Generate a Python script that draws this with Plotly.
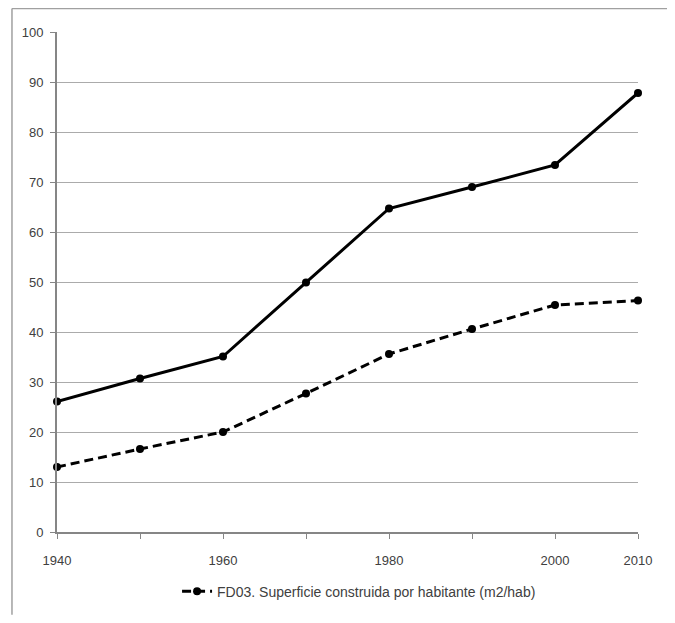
import plotly.graph_objects as go

years = [1940, 1950, 1960, 1970, 1980, 1990, 2000, 2010]
solid_values = [26.1, 30.7, 35.1, 49.9, 64.7, 69.0, 73.4, 87.8]
dashed_values = [13.0, 16.6, 20.0, 27.7, 35.6, 40.6, 45.4, 46.3]
dashed_name = "FD03. Superficie construida por habitante (m2/hab)"
x_tickvals = [1940, 1950, 1960, 1970, 1980, 1990, 2000, 2010]
x_ticktext = ["1940", "", "1960", "", "1980", "", "2000", "2010"]
y_tickvals = [0, 10, 20, 30, 40, 50, 60, 70, 80, 90, 100]

fig = go.Figure()
fig.add_trace(go.Scatter(
    x=years, y=solid_values, mode="lines+markers", showlegend=False,
    line=dict(color="black", width=3),
    marker=dict(color="black", size=8, symbol="circle"),
    cliponaxis=False,
))
fig.add_trace(go.Scatter(
    x=years, y=dashed_values, mode="lines+markers", name=dashed_name,
    line=dict(color="black", width=3, dash="9px,5px"),
    marker=dict(color="black", size=8, symbol="circle"),
    cliponaxis=False,
))

OFF = 8  # page body margin
W, H = 659, 607
# plot area in page pixels
PX0, PX1, PY0, PY1 = 57, 637.7, 32.3, 532.3
L = PX0 - OFF
R = W - (PX1 - OFF)
T = PY0 - OFF
B = H - (PY1 - OFF)
pw = PX1 - PX0
ph = PY1 - PY0

def page_to_paper_x(px):
    return (px - PX0) / pw

def page_to_paper_y(py):
    return (PY1 - py) / ph

fig.update_layout(
    width=W, height=H,
    margin=dict(l=L, r=R, t=T, b=B, autoexpand=False),
    paper_bgcolor="white", plot_bgcolor="white",
    font=dict(family="Liberation Sans, Arial, sans-serif", size=13, color="#404040"),
    showlegend=True,
    legend=dict(
        orientation="h", x=page_to_paper_x(177), y=page_to_paper_y(592),
        xanchor="left", yanchor="middle",
        font=dict(size=14, color="#404040"),
        bgcolor="rgba(0,0,0,0)",
    ),
    xaxis=dict(
        range=[1940, 2010], tickmode="array", tickvals=x_tickvals, ticktext=x_ticktext,
        showgrid=False, zeroline=False,
        showline=True, linecolor="#868686", linewidth=2,
        ticks="outside", ticklen=5, tickcolor="#868686", tickwidth=1,
        ticklabelstandoff=10,
        tickfont=dict(size=13, color="#404040"),
    ),
    yaxis=dict(
        range=[0, 100], tickmode="array", tickvals=y_tickvals,
        showgrid=True, gridcolor="#ababab", gridwidth=1, zeroline=False,
        showline=True, linecolor="#868686", linewidth=2,
        ticks="outside", ticklen=5, tickcolor="#868686", tickwidth=1,
        ticklabelstandoff=4,
        tickfont=dict(size=13, color="#404040"),
    ),
    shapes=[
        dict(type="line", xref="paper", yref="paper",
             x0=page_to_paper_x(12), x1=page_to_paper_x(OFF + W),
             y0=page_to_paper_y(8.8), y1=page_to_paper_y(8.8),
             line=dict(color="#a0a0a0", width=1.5)),
        dict(type="line", xref="paper", yref="paper",
             x0=page_to_paper_x(12), x1=page_to_paper_x(12),
             y0=page_to_paper_y(8.8), y1=page_to_paper_y(OFF + H),
             line=dict(color="#a0a0a0", width=1.5)),
    ],
)

fig.write_html("out.html")
